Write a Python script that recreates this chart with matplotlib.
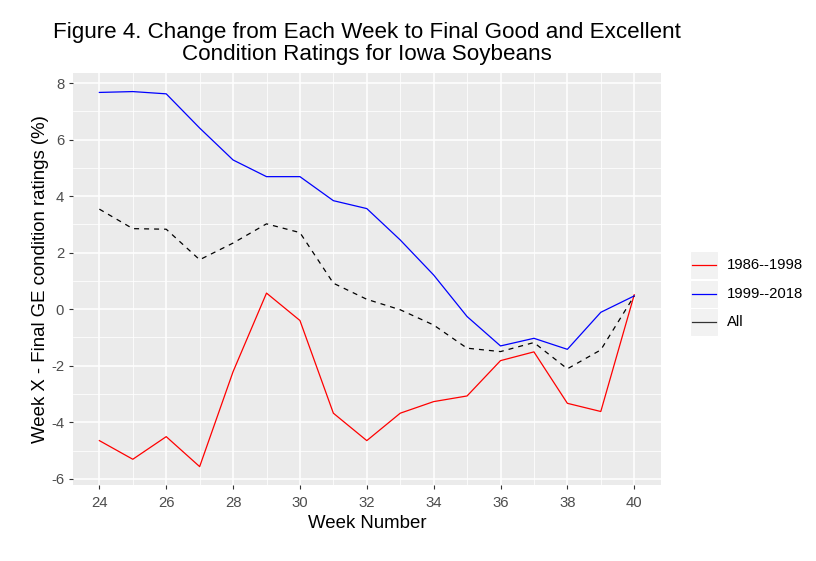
import numpy as np
import matplotlib
matplotlib.use("Agg")
import matplotlib.pyplot as plt
from matplotlib.lines import Line2D
from matplotlib.patches import Rectangle

plt.rcParams['font.family'] = ['Liberation Sans', 'DejaVu Sans']
plt.rcParams['axes.unicode_minus'] = False

weeks = list(range(24, 41))
# Week X minus final GE rating
early = [-4.65, -5.31, -4.51, -5.57, -2.21, 0.57, -0.40, -3.68, -4.65,
         -3.68, -3.27, -3.07, -1.82, -1.51, -3.33, -3.62, 0.51]
late = [7.67, 7.70, 7.62, 6.41, 5.28, 4.69, 4.69, 3.84, 3.56,
        2.45, 1.21, -0.26, -1.30, -1.03, -1.42, -0.11, 0.47]
all_years = [3.54, 2.85, 2.83, 1.75, 2.34, 3.02, 2.71, 0.92, 0.35,
             -0.02, -0.56, -1.38, -1.50, -1.18, -2.11, -1.44, 0.47]
series_names = ["1986--1998", "1999--2018", "All"]

fig = plt.figure(figsize=(8.16, 5.61), dpi=100)
ax = fig.add_axes([0.089, 0.135, 0.721, 0.735])
ax.set_facecolor("#EBEBEB")

ax.plot(weeks, early, color="#FF0000", lw=0.9)
ax.plot(weeks, late, color="#0000FF", lw=0.9)
ax.plot(weeks, all_years, color="black", lw=0.9, dashes=(4, 4))

ax.set_xlim(23.2, 40.8)
ax.set_ylim(-6.23, 8.36)
ax.set_xticks(range(24, 41, 2))
ax.set_yticks(range(-6, 9, 2))
ax.set_xticks(range(25, 41, 2), minor=True)
ax.set_yticks(range(-5, 9, 2), minor=True)
ax.grid(which="major", color="white", lw=1.1)
ax.grid(which="minor", color="white", lw=0.55)
ax.set_axisbelow(True)
for s in ax.spines.values():
    s.set_visible(False)
ax.tick_params(which="major", color="#333333", length=3.1, width=0.8,
               labelsize=10.7, labelcolor="#4D4D4D")
ax.tick_params(axis="x", pad=4.5)
ax.tick_params(axis="y", pad=3)
ax.tick_params(which="minor", length=0)

ax.set_xlabel("Week Number", fontsize=13.4, labelpad=4)
ax.set_ylabel("Week X - Final GE condition ratings (%)", fontsize=13.4, labelpad=1.5)
ax.set_title("Figure 4. Change from Each Week to Final Good and Excellent\n"
             "Condition Ratings for Iowa Soybeans", fontsize=16.1, pad=9,
             linespacing=1.08)

# legend drawn by hand to get ggplot style key boxes
colors = ["#FF0000", "#0000FF", "#333333"]
W, H = 816.0, 561.0
for i, (name, c) in enumerate(zip(series_names, colors)):
    top = 251 + i * 28.7
    fig.add_artist(Rectangle((690 / W, 1 - (top + 28) / H), 28 / W, 28 / H,
                             transform=fig.transFigure, facecolor="#F2F2F2",
                             edgecolor="white", lw=0.8))
    yc = 1 - (top + 14) / H
    fig.add_artist(Line2D([692 / W, 716 / W], [yc, yc], transform=fig.transFigure,
                          color=c, lw=0.9))
    fig.text(727 / W, yc, name, fontsize=10.7, va="center", ha="left")

fig.savefig("out.png", dpi=100)
